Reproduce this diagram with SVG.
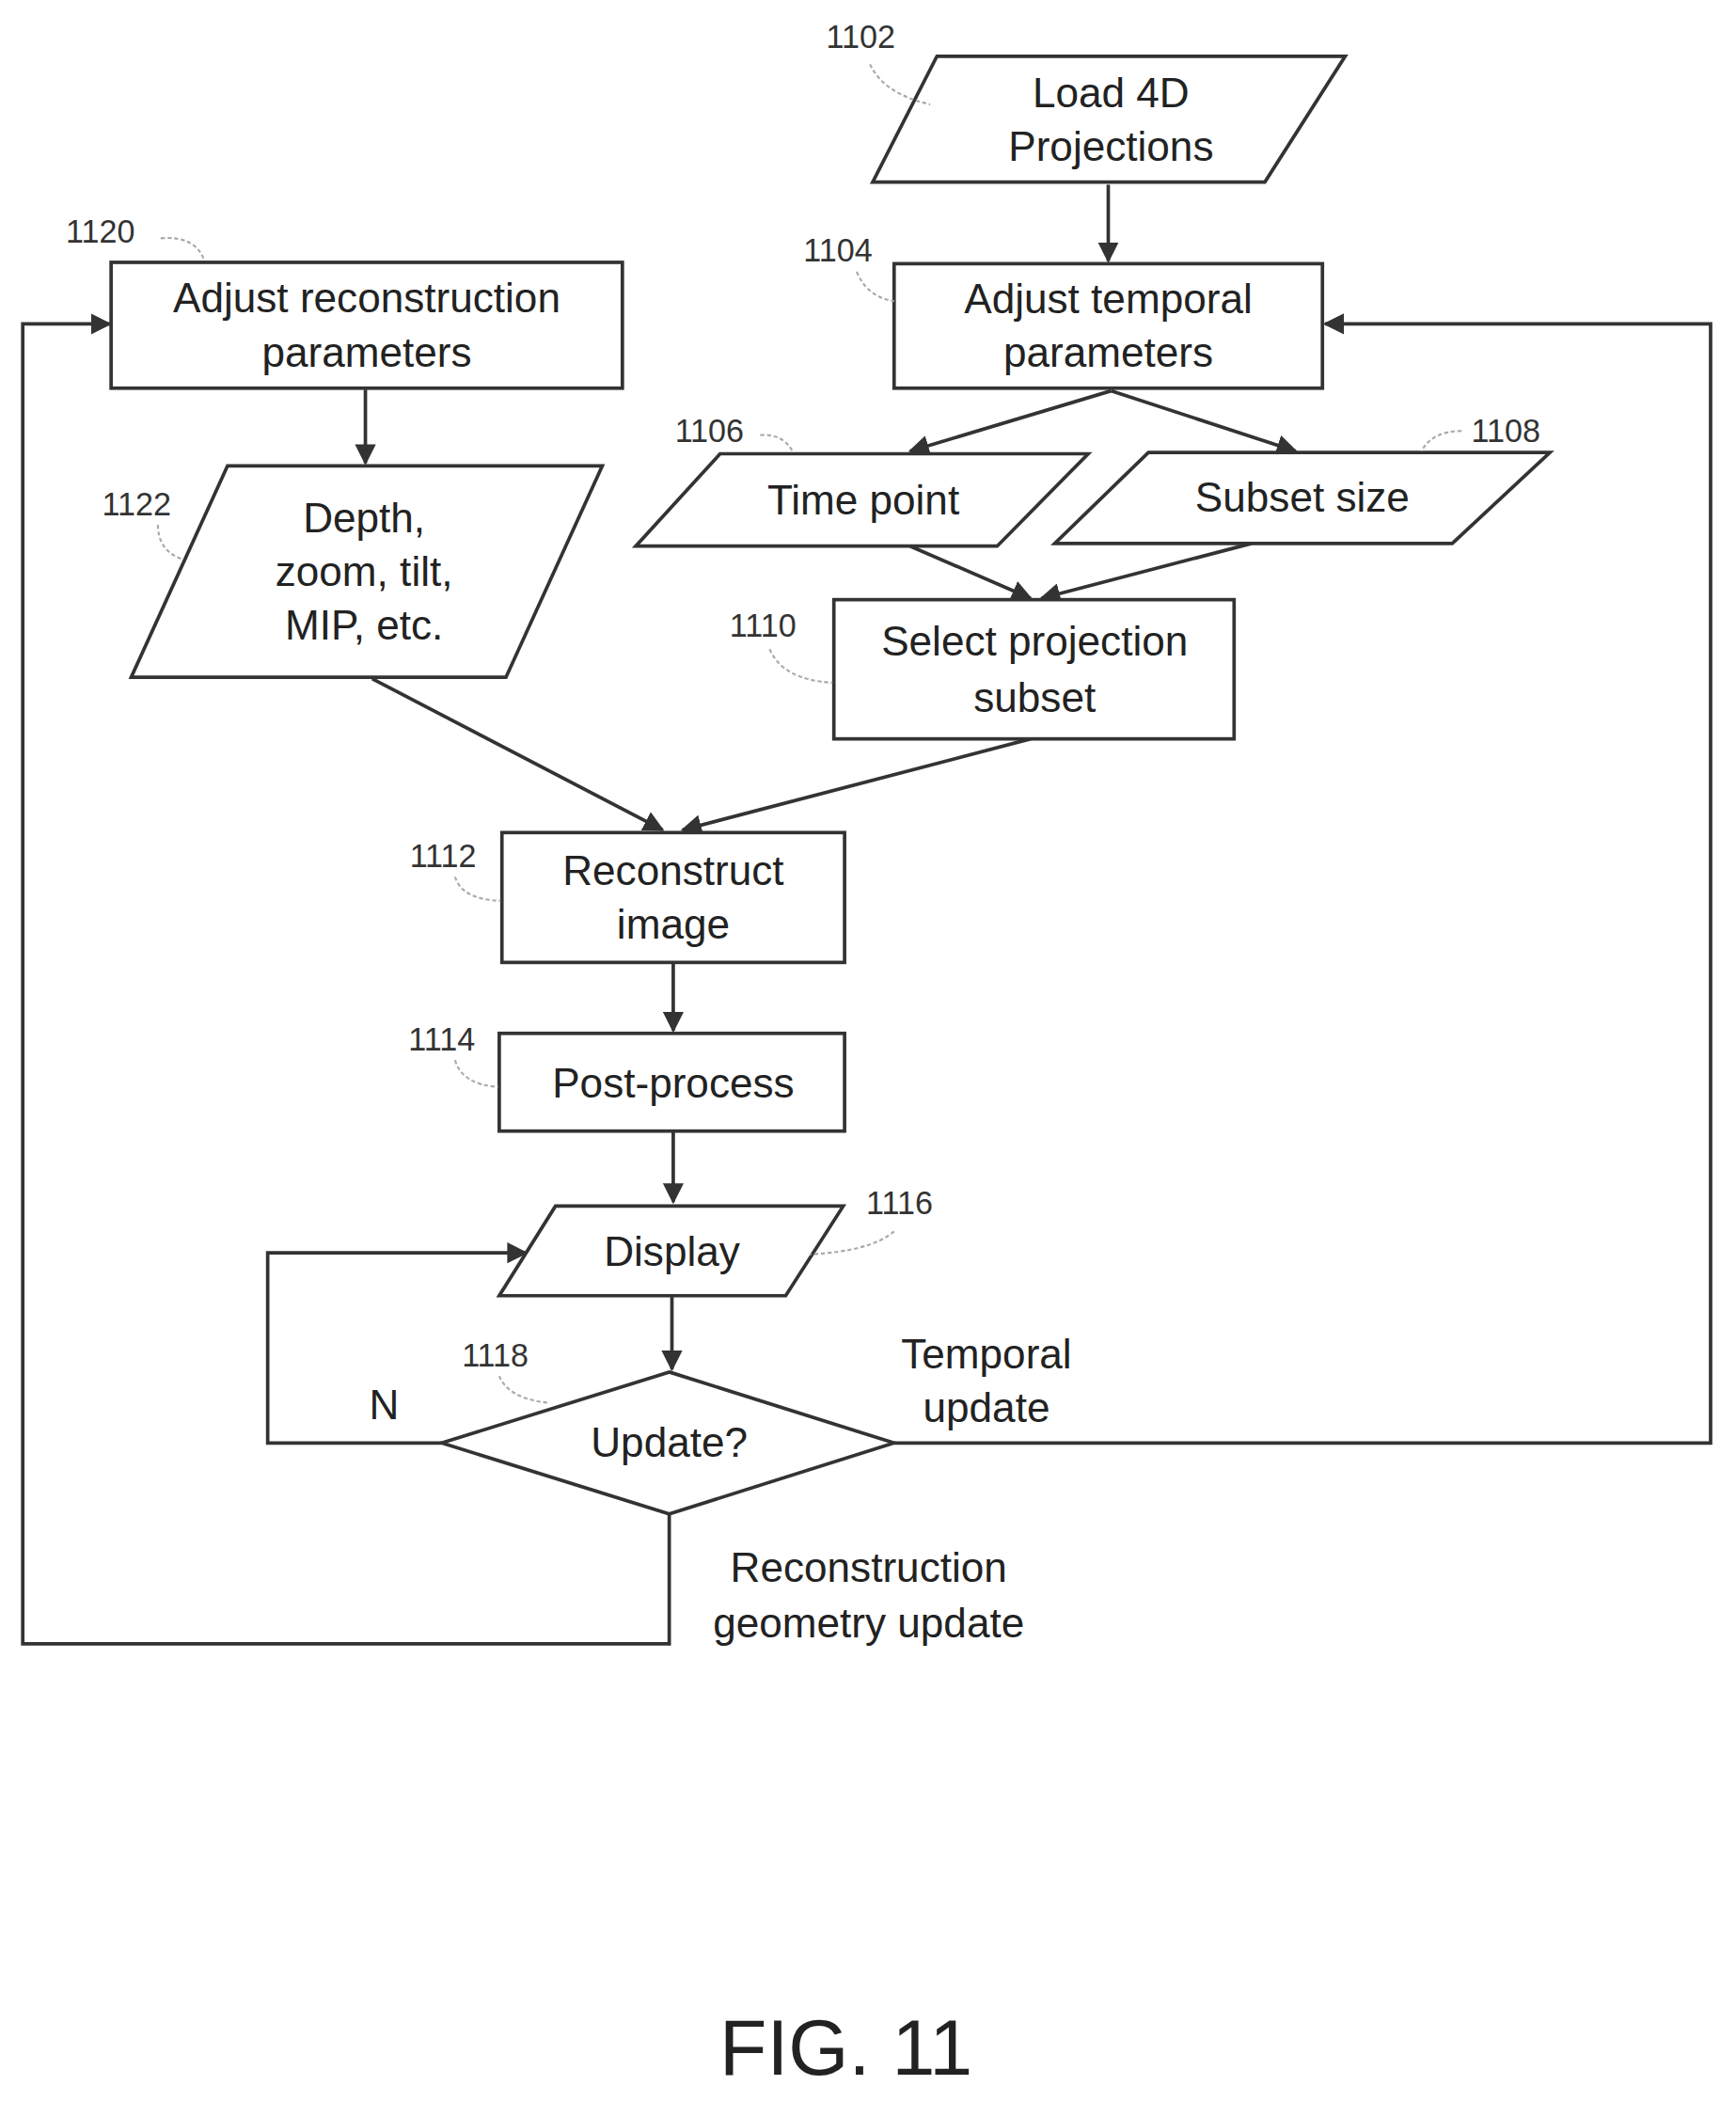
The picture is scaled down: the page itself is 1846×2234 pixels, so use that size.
<svg xmlns="http://www.w3.org/2000/svg" width="1846" height="2234" viewBox="0 0 1846 2234">
<style>
.s{fill:#fff;stroke:#333;stroke-width:2.6}
.c{fill:none;stroke:#333;stroke-width:2.6}
.t{font-family:"Liberation Sans",Arial,sans-serif;font-size:31px;fill:#222;text-anchor:middle}
.l{font-family:"Liberation Sans",Arial,sans-serif;font-size:24px;fill:#333;text-anchor:middle}
.ld{fill:none;stroke:#aaa;stroke-width:1.5;stroke-dasharray:3 2}
</style>
<defs><marker id="a" viewBox="0 0 10 10" refX="9" refY="5" markerWidth="6" markerHeight="6" orient="auto"><path d="M0,0L10,5L0,10z" fill="#333"/></marker></defs>
<rect width="1846" height="2234" fill="#fff"/>
<g transform="scale(1.4233)">
<g id="connectors">
<path class="c" marker-end="url(#a)" d="M828,138V195"/>
<path class="c" marker-end="url(#a)" d="M273,291V346"/>
<path class="c" marker-end="url(#a)" d="M830,292L680,337"/>
<path class="c" marker-end="url(#a)" d="M830,292L968,337"/>
<path class="c" marker-end="url(#a)" d="M680,408L770,447"/>
<path class="c" marker-end="url(#a)" d="M935,406L778,447"/>
<path class="c" marker-end="url(#a)" d="M278,507L495,620"/>
<path class="c" marker-end="url(#a)" d="M770,552L510,620"/>
<path class="c" marker-end="url(#a)" d="M503,719V770"/>
<path class="c" marker-end="url(#a)" d="M503,845V898"/>
<path class="c" marker-end="url(#a)" d="M502,968V1023"/>
<path class="c" marker-end="url(#a)" d="M330,1078H200V936H393"/>
<path class="c" marker-end="url(#a)" d="M668,1078H1278V242H990"/>
<path class="c" marker-end="url(#a)" d="M500,1131V1228H17V242H82"/>
<text class="t" x="287" y="1060">N</text>
<text class="t" x="737" y="1022">Temporal</text>
<text class="t" x="737" y="1062">update</text>
<text class="t" x="649" y="1182">Reconstruction</text>
<text class="t" x="649" y="1223">geometry update</text>
</g>
<g id="n1102"><path class="s" d="M700,42H1005L945,136H652Z"/><text class="t" x="830" y="80">Load 4D</text><text class="t" x="830" y="120">Projections</text><text class="l" x="643" y="36">1102</text><path class="ld" d="M650,48Q660,70 695,78"/></g>
<g id="n1104"><rect class="s" x="668" y="197" width="320" height="93"/><text class="t" x="828" y="234">Adjust temporal</text><text class="t" x="828" y="274">parameters</text><text class="l" x="626" y="195">1104</text><path class="ld" d="M640,203Q648,222 668,225"/></g>
<g id="n1120"><rect class="s" x="83" y="196" width="382" height="94"/><text class="t" x="274" y="233">Adjust reconstruction</text><text class="t" x="274" y="274">parameters</text><text class="l" x="75" y="181">1120</text><path class="ld" d="M120,178Q145,176 152,193"/></g>
<g id="n1122"><path class="s" d="M170,348H450L378,506H98Z"/><text class="t" x="272" y="398">Depth,</text><text class="t" x="272" y="438">zoom, tilt,</text><text class="t" x="272" y="478">MIP, etc.</text><text class="l" x="102" y="385">1122</text><path class="ld" d="M118,392Q118,412 137,418"/></g>
<g id="n1106"><path class="s" d="M538,339H813L745,408H475Z"/><text class="t" x="645" y="384">Time point</text><text class="l" x="530" y="330">1106</text><path class="ld" d="M568,325Q585,324 592,337"/></g>
<g id="n1108"><path class="s" d="M858,338H1158L1085,406H788Z"/><text class="t" x="973" y="382">Subset size</text><text class="l" x="1125" y="330">1108</text><path class="ld" d="M1092,322Q1070,322 1062,337"/></g>
<g id="n1110"><rect class="s" x="623" y="448" width="299" height="104"/><text class="t" x="773" y="490">Select projection</text><text class="t" x="773" y="532">subset</text><text class="l" x="570" y="476">1110</text><path class="ld" d="M575,485Q585,508 622,510"/></g>
<g id="n1112"><rect class="s" x="375" y="622" width="256" height="97"/><text class="t" x="503" y="661">Reconstruct</text><text class="t" x="503" y="701">image</text><text class="l" x="331" y="648">1112</text><path class="ld" d="M340,655Q345,672 374,673"/></g>
<g id="n1114"><rect class="s" x="373" y="772" width="258" height="73"/><text class="t" x="503" y="820">Post-process</text><text class="l" x="330" y="785">1114</text><path class="ld" d="M340,792Q345,810 372,812"/></g>
<g id="n1116"><path class="s" d="M415,901H630L587,968H373Z"/><text class="t" x="502" y="946">Display</text><text class="l" x="672" y="907">1116</text><path class="ld" d="M668,920Q650,935 605,937"/></g>
<g id="n1118"><path class="s" d="M500,1025L668,1078L500,1131L330,1078Z"/><text class="t" x="500" y="1088">Update?</text><text class="l" x="370" y="1021">1118</text><path class="ld" d="M373,1028Q380,1045 410,1048"/></g>
<text x="632" y="1550" style="font-family:'Liberation Sans',Arial,sans-serif;font-size:58px;fill:#222;text-anchor:middle">FIG. 11</text>
</g>
</svg>
